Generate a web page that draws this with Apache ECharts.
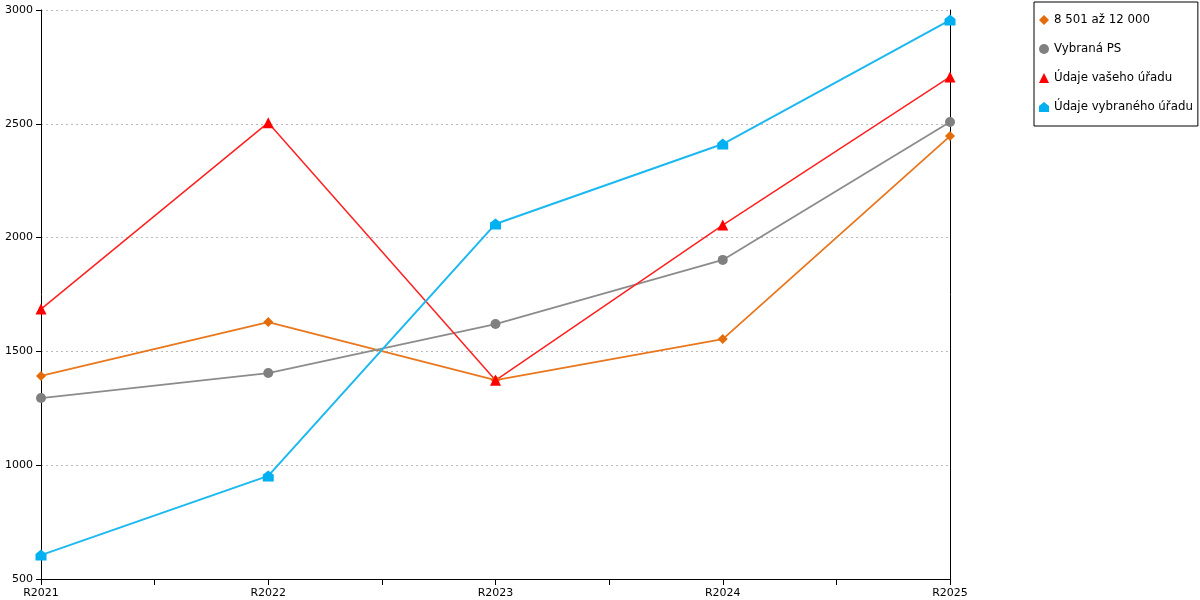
<!DOCTYPE html>
<html lang="cs">
<head>
    <meta charset="UTF-8">
    <title>Chart</title>
    <script src="https://cdn.jsdelivr.net/npm/echarts@6/dist/echarts.min.js"></script>
    <style>
        html, body { margin: 0; padding: 0; background: #fff; }
    </style>
</head>
<body>
    <div id="pic1" style="width:1200px;height:600px;"></div>
    <script>
        // kategorie (roky)
        var categories = ['R2021', 'R2022', 'R2023', 'R2024', 'R2025'];

        // hodnoty serii
        var skupina = [1392, 1629, 1374, 1554, 2446];     // 8 501 až 12 000
        var vybranaPS = [1295, 1405, 1620, 1902, 2508];   // Vybraná PS
        var vasUrad = [1686, 2505, 1373, 2055, 2706];     // Údaje vašeho úřadu
        var vybranyUrad = [605, 953, 2060, 2411, 2956];   // Údaje vybraného úřadu

        // osa y
        var yMin = 500, yMax = 3000, yStep = 500;

        var myChart = echarts.init(document.getElementById("pic1"));

        var font = 'DejaVu Sans';
        var houseSymbol = 'path://M0,4 L5,0 L10,4 L10,10 L0,10 Z';

        var option = {
            backgroundColor: '#fff',
            animation: false,
            textStyle: { fontFamily: font },
            grid: { left: 41, right: 250, top: 10, bottom: 21 },
            legend: {
                orient: 'vertical',
                left: 1034,
                top: 2,
                padding: [12, 5, 13, 5],
                itemGap: 17,
                itemWidth: 10,
                itemHeight: 10,
                borderColor: '#000',
                borderWidth: 1,
                textStyle: { fontFamily: font, fontSize: 11.8, color: '#000' },
                data: [
                    { name: '8 501 až 12 000', icon: 'diamond' },
                    { name: 'Vybraná PS', icon: 'circle' },
                    { name: 'Údaje vašeho úřadu', icon: 'triangle' },
                    { name: 'Údaje vybraného úřadu', icon: houseSymbol }
                ]
            },
            xAxis: [
                {
                    type: 'category',
                    boundaryGap: false,
                    data: categories,
                    axisLine: { lineStyle: { color: '#000', width: 1 } },
                    axisTick: { show: false },
                    axisLabel: { fontFamily: font, fontSize: 11, color: '#000', margin: 9 }
                },
                {
                    // jen znacky na ose (i mezi roky)
                    type: 'value',
                    position: 'bottom',
                    min: 0,
                    max: (categories.length - 1) * 2,
                    interval: 1,
                    axisLine: { show: false },
                    axisTick: { show: true, length: 6, lineStyle: { color: '#000' } },
                    axisLabel: { show: false },
                    splitLine: { show: false }
                }
            ],
            yAxis: [
                {
                    type: 'value',
                    min: yMin,
                    max: yMax,
                    interval: yStep,
                    axisLine: { show: true, lineStyle: { color: '#000', width: 1 } },
                    axisTick: { show: true, length: 5, lineStyle: { color: '#000' } },
                    axisLabel: {
                        fontFamily: font, fontSize: 11, color: '#000', margin: 8,
                        formatter: function (v) { return String(v); }
                    },
                    splitLine: { show: true, lineStyle: { color: '#bbb', type: [2, 3], width: 1 } }
                },
                {
                    type: 'value',
                    position: 'right',
                    min: yMin,
                    max: yMax,
                    interval: yStep,
                    axisLine: { show: true, lineStyle: { color: '#000', width: 1 } },
                    axisTick: { show: false },
                    axisLabel: { show: false },
                    splitLine: { show: false }
                }
            ],
            series: [
                {
                    name: '8 501 až 12 000',
                    type: 'line',
                    data: skupina,
                    symbol: 'diamond',
                    symbolSize: 10,
                    color: '#E46C0A',
                    lineStyle: { width: 1.8, color: '#E8771E' }
                },
                {
                    name: 'Vybraná PS',
                    type: 'line',
                    data: vybranaPS,
                    symbol: 'circle',
                    symbolSize: 10,
                    color: '#808080',
                    lineStyle: { width: 1.8, color: '#8c8c8c' }
                },
                {
                    name: 'Údaje vašeho úřadu',
                    type: 'line',
                    data: vasUrad,
                    symbol: 'triangle',
                    symbolSize: 11,
                    color: '#FF0000',
                    lineStyle: { width: 1.5, color: '#FF2020' }
                },
                {
                    name: 'Údaje vybraného úřadu',
                    type: 'line',
                    data: vybranyUrad,
                    symbol: houseSymbol,
                    symbolSize: 11,
                    color: '#00B0F0',
                    lineStyle: { width: 2, color: '#1CB8F0' }
                }
            ]
        };

        myChart.setOption(option);
    </script>
</body>
</html>
